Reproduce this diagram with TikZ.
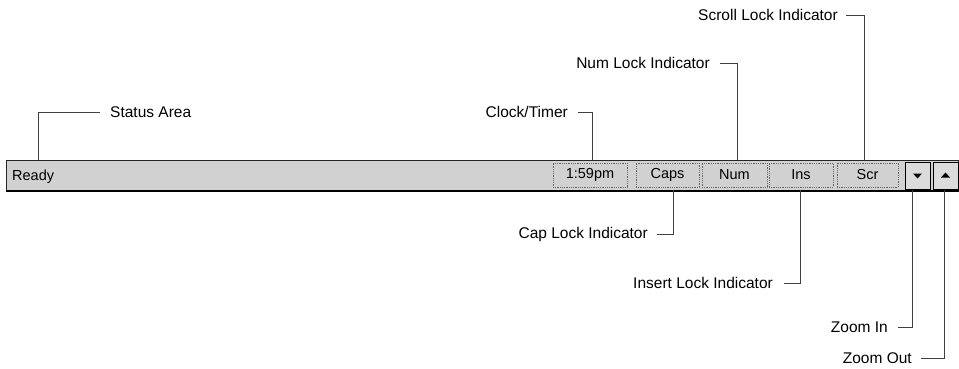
\documentclass[tikz,border=0pt]{standalone}
\usepackage{fontspec}
\setmainfont{Liberation Sans}
\usepackage{xcolor}
\usepackage{tikz}
\usetikzlibrary{positioning}

\definecolor{barfill}{gray}{0.82}

\begin{document}
\begin{tikzpicture}[x=1pt, y=-1pt,
  lbl/.style={font=\fontsize{15.5pt}{18pt}\selectfont, inner sep=0pt},
  statbar/.style={draw=black!85, fill=barfill, line width=1pt, inner sep=0pt,
                  minimum width=952pt, minimum height=30pt},
  pane/.style={draw=black!60, densely dotted, line width=0.8pt, inner sep=0pt,
               minimum height=24pt, font=\fontsize{14.5pt}{17pt}\selectfont},
  btn/.style={draw=black, fill=black!14, line width=1pt, inner sep=0pt,
              minimum width=25pt, minimum height=27pt},
  lead/.style={draw=black!75, line width=0.8pt}
]
\useasboundingbox (0,0) rectangle (959,369);

% the status bar and its panes
\node[statbar] (bar) at (482,175) {};
\draw[line width=2pt] (bar.south west) -- (bar.south east);
\node[lbl, anchor=west, font=\fontsize{14.5pt}{17pt}\selectfont] (ready) at (12,177) {Ready};
\node[pane, minimum width=74pt] (clock) at (590,175) {1:59pm};
\node[pane, minimum width=63pt] (caps) at (667.5,175) {Caps};
\node[pane, minimum width=65pt] (num) at (734.5,175) {Num};
\node[pane, minimum width=64pt] (ins) at (801,175) {Ins};
\node[pane, minimum width=61pt] (scr) at (867.5,175) {Scr};
\node[btn] (zin) at (917.5,175.5) {};
\node[btn] (zout) at (945.5,175.5) {};
\fill (zin.center) ++(-4.5,-2) -- ++(9,0) -- ++(-4.5,5) -- cycle;
\fill (zout.center) ++(-4.5,2) -- ++(9,0) -- ++(-4.5,-5) -- cycle;
\coordinate (statusTop) at ([xshift=33]bar.north west);

% labels
\node[lbl, anchor=west] (statusLbl) at (110,112) {Status Area};
\node[lbl, anchor=east] (clockLbl) at (568,112) {Clock/Timer};
\node[lbl, anchor=east] (numLbl) at (710,63) {Num Lock Indicator};
\node[lbl, anchor=east] (scrLbl) at (838,15) {Scroll Lock Indicator};
\node[lbl, anchor=east] (capsLbl) at (648,234) {Cap Lock Indicator};
\node[lbl, anchor=east] (insLbl) at (773,283) {Insert Lock Indicator};
\node[lbl, anchor=east] (zinLbl) at (888,327) {Zoom In};
\node[lbl, anchor=east] (zoutLbl) at (912,358) {Zoom Out};

% leaders
\draw[lead] ([xshift=-10]statusLbl.west) -| (statusTop);
\draw[lead] ([xshift=10]clockLbl.east) -| ([xshift=2,yshift=3]clock.north);
\draw[lead] ([xshift=10]numLbl.east) -| ([xshift=2.5,yshift=3]num.north);
\draw[lead] ([xshift=8]scrLbl.east) -| ([xshift=-3.5,yshift=3]scr.north);
\draw[lead] ([xshift=9]capsLbl.east) -| ([xshift=5.5,yshift=-3]caps.south);
\draw[lead] ([xshift=11]insLbl.east) -| ([xshift=-1,yshift=-3]ins.south);
\draw[lead] ([xshift=10]zinLbl.east) -| ([xshift=-5.5]zin.south);
\draw[lead] ([xshift=9]zoutLbl.east) -| ([xshift=-1.5]zout.south);
\end{tikzpicture}
\end{document}
